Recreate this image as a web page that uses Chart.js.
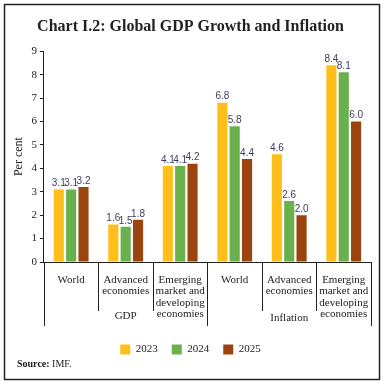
<!DOCTYPE html>
<html>
<head>
<meta charset="utf-8">
<script src="https://cdn.jsdelivr.net/npm/chart.js@4"></script>
<style>
  html, body { margin: 0; padding: 0; background: #fff; }
  #wrap { width: 385px; height: 385px; position: relative; }
</style>
</head>
<body>
<div id="wrap"><canvas id="gdpChart" width="385" height="385"></canvas></div>
<script>
// Chart data
const categories = [
    'World',
    ['Advanced', 'economies'],
    ['Emerging', 'market and', 'developing', 'economies'],
    'World',
    ['Advanced', 'economies'],
    ['Emerging', 'market and', 'developing', 'economies']
];
const groups = ['GDP', 'Inflation'];
const years = ['2023', '2024', '2025'];
const values2023 = [3.1, 1.6, 4.1, 6.8, 4.6, 8.4];
const values2024 = [3.1, 1.5, 4.1, 5.8, 2.6, 8.1];
const values2025 = [3.2, 1.8, 4.2, 4.4, 2.0, 6.0];
const yTicks = [0, 1, 2, 3, 4, 5, 6, 7, 8, 9];

const colors = ['#FFBE1A', '#6AB04C', '#9C4410'];
const serif = '"Liberation Serif", "DejaVu Serif", serif';

// draws frame, value labels, separators, group names and source note
const extras = {
    id: 'extras',
    beforeDraw(chart) {
        const ctx = chart.ctx;
        ctx.save();
        ctx.fillStyle = '#fff';
        ctx.fillRect(0, 0, chart.width, chart.height);
        ctx.strokeStyle = '#222';
        ctx.lineWidth = 1.5;
        ctx.strokeRect(4.5, 4.5, 375, 375);
        ctx.restore();
    },
    afterDatasetsDraw(chart) {
        const ctx = chart.ctx;
        ctx.save();
        ctx.font = '10px "Liberation Sans Narrow", "Liberation Sans", sans-serif';
        ctx.fillStyle = '#3b3f5c';
        ctx.textAlign = 'center';
        ctx.textBaseline = 'bottom';
        chart.data.datasets.forEach((ds, di) => {
            chart.getDatasetMeta(di).data.forEach((bar, i) => {
                ctx.fillText(ds.data[i].toFixed(1), bar.x, bar.y - 1);
            });
        });
        ctx.restore();
    },
    afterDraw(chart) {
        const ctx = chart.ctx;
        const x = chart.scales.x;
        const area = chart.chartArea;
        const n = categories.length;
        ctx.save();
        ctx.strokeStyle = '#222';
        ctx.lineWidth = 1;
        for (let i = 0; i <= n; i++) {
            let px;
            if (i === 0) px = area.left;
            else if (i === n) px = area.right;
            else px = (x.getPixelForValue(i - 1) + x.getPixelForValue(i)) / 2;
            px = Math.round(px) + 0.5;
            const len = (i % 3 === 0) ? 64 : 49;
            ctx.beginPath();
            ctx.moveTo(px, area.bottom);
            ctx.lineTo(px, area.bottom + len);
            ctx.stroke();
        }
        ctx.font = '11px ' + serif;
        ctx.fillStyle = '#222';
        ctx.textAlign = 'center';
        ctx.textBaseline = 'middle';
        ctx.fillText(groups[0], x.getPixelForValue(1), area.bottom + 54);
        ctx.fillText(groups[1], x.getPixelForValue(4), area.bottom + 56);

        ctx.textAlign = 'left';
        ctx.font = 'bold 10px ' + serif;
        ctx.fillText('Source:', 17, 364);
        const w = ctx.measureText('Source: ').width;
        ctx.font = '10px ' + serif;
        ctx.fillText('IMF.', 17 + w, 364);
        ctx.restore();
    }
};

const config = {
    type: 'bar',
    data: {
        labels: categories,
        datasets: years.map((yr, k) => ({
            label: yr,
            data: [values2023, values2024, values2025][k],
            backgroundColor: colors[k],
            categoryPercentage: 0.68,
            barPercentage: 0.82
        }))
    },
    options: {
        responsive: false,
        animation: false,
        layout: { padding: { left: 10, right: 14, top: 4, bottom: 20 } },
        plugins: {
            title: {
                display: true,
                text: 'Chart I.2: Global GDP Growth and Inflation',
                font: { family: serif, size: 16, weight: 'bold' },
                color: '#222',
                padding: { top: 13, bottom: 15 }
            },
            legend: {
                position: 'bottom',
                labels: {
                    boxWidth: 10,
                    boxHeight: 10,
                    padding: 14,
                    color: '#222',
                    font: { family: serif, size: 11 }
                }
            },
            tooltip: { enabled: false }
        },
        scales: {
            x: {
                grid: { display: false },
                border: { color: '#222', width: 1 },
                ticks: {
                    color: '#222',
                    font: { family: serif, size: 11, lineHeight: 1.05 },
                    maxRotation: 0,
                    autoSkip: false,
                    padding: 4
                },
                afterFit(scale) { scale.height = 68; }
            },
            y: {
                min: 0,
                max: 9,
                afterBuildTicks(scale) {
                    scale.ticks = yTicks.map(v => ({ value: v }));
                },
                grid: { drawOnChartArea: false, tickLength: 4, color: '#222' },
                border: { color: '#222', width: 1 },
                ticks: {
                    color: '#222',
                    font: { family: serif, size: 11 },
                    padding: 3
                },
                title: {
                    display: true,
                    text: 'Per cent',
                    color: '#222',
                    font: { family: serif, size: 12 },
                    padding: 2
                }
            }
        }
    },
    plugins: [extras]
};

const gdpChart = new Chart(document.getElementById('gdpChart'), config);
</script>
</body>
</html>
